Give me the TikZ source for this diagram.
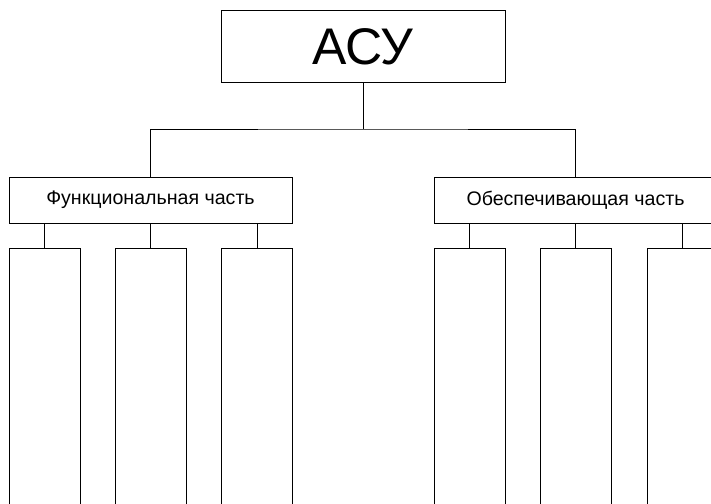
\documentclass[tikz,border=0pt]{standalone}
\usepackage{fontspec}
\setmainfont{Liberation Sans}

\begin{document}
\begin{tikzpicture}[x=1pt,y=-1pt,
    box/.style={draw,line width=1pt,inner sep=0pt,minimum width=283pt,minimum height=46pt,font=\fontsize{19.6}{22}\selectfont},
    col/.style={draw,line width=1pt,minimum width=71pt,minimum height=290pt,anchor=north},
    link/.style={line width=1pt}]
    \useasboundingbox (0,0) rectangle (711,503);
    \node[box,minimum width=284pt,minimum height=71pt,font=\fontsize{51.5}{58}\selectfont] (asu) at (363,46.5) {АСУ};
    \node[box] (func) at (150.5,200) {Функциональная часть};
    \node[box] (obesp) at (575.5,200) {Обеспечивающая часть};
    \coordinate (bus) at (363,129);
    \draw[link] (asu.south) -- (bus);
    \draw[link] (func.north) |- (bus) -| (obesp.north);
    % columns under the two parts
    \node[col] (f1) at (44.5,248) {};
    \node[col] (f2) at (150.5,248) {};
    \node[col] (f3) at (257,248) {};
    \node[col] (o1) at (469.5,248) {};
    \node[col] (o2) at (575.5,248) {};
    \node[col] (o3) at (682.5,248) {};
    \draw[link] (func.south -| f1.north) -- (f1.north);
    \draw[link] (func.south -| f2.north) -- (f2.north);
    \draw[link] (func.south -| f3.north) -- (f3.north);
    \draw[link] (obesp.south -| o1.north) -- (o1.north);
    \draw[link] (obesp.south -| o2.north) -- (o2.north);
    \draw[link] (obesp.south -| o3.north) -- (o3.north);
\end{tikzpicture}
\end{document}
